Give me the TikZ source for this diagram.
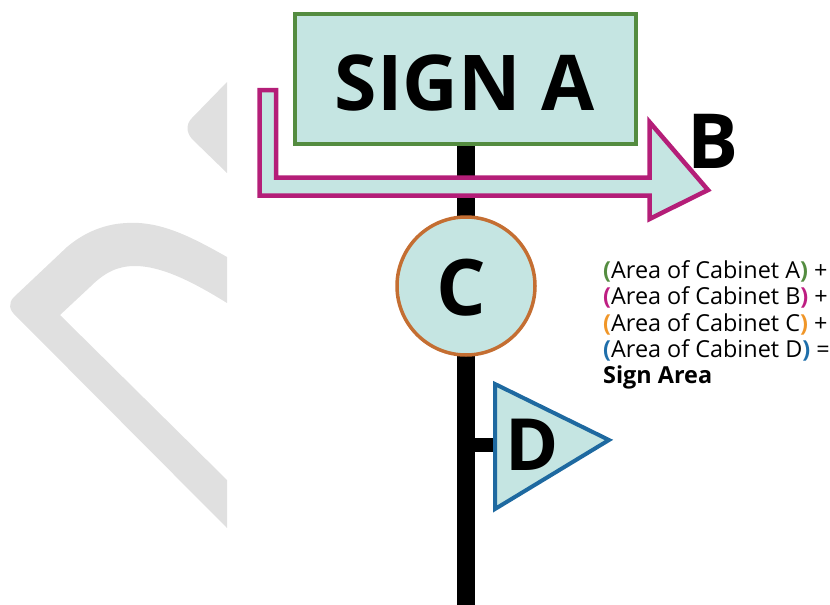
\documentclass[tikz,border=0pt]{standalone}
\usepackage{fontspec}
\setmainfont{Open Sans}
\definecolor{signfill}{RGB}{197,229,226}
\definecolor{cabA}{RGB}{84,140,64}
\definecolor{cabB}{RGB}{180,30,120}
\definecolor{cabC}{RGB}{196,110,50}
\definecolor{cabD}{RGB}{30,105,160}
\definecolor{parA}{RGB}{84,140,64}
\definecolor{parB}{RGB}{190,30,130}
\definecolor{parC}{RGB}{240,150,40}
\definecolor{parD}{RGB}{30,110,170}
\definecolor{wmark}{RGB}{224,224,224}
\tikzset{
  cabinet/.style={fill=signfill, line width=4pt, line join=miter},
  bigletter/.style={inner sep=0pt, anchor=base, font=\fontsize{#1}{#1}\selectfont\bfseries},
  formula/.style={inner sep=0pt, anchor=base west, font=\fontsize{23.4}{26}\selectfont},
}
\begin{document}
\begin{tikzpicture}[x=1pt,y=-1pt]
\useasboundingbox (0,0) rectangle (830,605);
% watermark shapes
\fill[wmark] (227,82) -- (192,118) .. controls (186,124) and (186,132) .. (192,139) -- (227,173) -- cycle;
\fill[wmark] (227,257) .. controls (190,236) and (160,221) .. (127,223)
  .. controls (100,224) and (80,236) .. (67,247) -- (14,297)
  .. controls (8,303) and (9,310) .. (16,316) -- (227,528) -- (227,480) -- (60,315) -- (90,287)
  .. controls (105,272) and (118,266) .. (135,266)
  .. controls (160,266) and (190,280) .. (227,303) -- cycle;
% pole and stub
\fill[black] (457,140) rectangle (475,605);
\fill[black] (470,438) rectangle (496,452);
% Sign A
\draw[cabinet, draw=cabA] (295,14) rectangle (636,144);
\node[bigletter=77] (signA) at (464.5,110) {SIGN A};
% Cabinet B arrow
\draw[cabinet, draw=cabB, line width=4.5pt] (259.5,90) -- (276,90) -- (276,177.5) -- (649.5,177.5) -- (649.5,122)
  -- (708,190) -- (649.5,219) -- (649.5,195.5) -- (259.5,195.5) -- cycle;
\node[bigletter=76, anchor=base west] (labB) at (687,168) {B};
% Cabinet C circle
\draw[cabinet, draw=cabC, line width=3.5pt] (466,286) circle (69);
\node[bigletter=78] (labC) at (461,315) {C};
% Cabinet D triangle
\draw[cabinet, draw=cabD, line width=4pt] (495,384) -- (609,440) -- (495,509) -- cycle;
\node[bigletter=72] (labD) at (532.5,470) {D};
% formula
\node[formula] (f1) at (603,278) {\textcolor{parA}{\textbf{(}}Area of Cabinet A\textcolor{parA}{\textbf{)}} +};
\node[formula] (f2) at (603,304.5) {\textcolor{parB}{\textbf{(}}Area of Cabinet B\textcolor{parB}{\textbf{)}} +};
\node[formula] (f3) at (603,331) {\textcolor{parC}{\textbf{(}}Area of Cabinet C\textcolor{parC}{\textbf{)}} +};
\node[formula] (f4) at (603,357) {\textcolor{parD}{\textbf{(}}Area of Cabinet D\textcolor{parD}{\textbf{)}} =};
\node[formula, font=\fontsize{23.4}{26}\selectfont\bfseries] (f5) at (603,383.5) {Sign Area};
\end{tikzpicture}
\end{document}
